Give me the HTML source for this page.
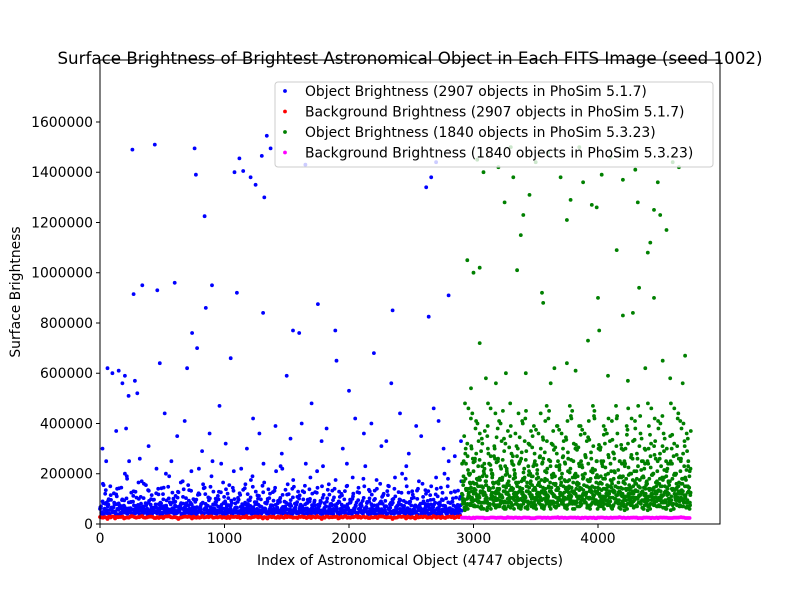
<!DOCTYPE html>
<html><head><meta charset="utf-8">
<style>
html,body{margin:0;padding:0;background:#fff;}
svg text{font-family:"DejaVu Sans","Liberation Sans",sans-serif;fill:#000;}
</style></head>
<body>
<svg id="chart" width="800" height="600" xmlns="http://www.w3.org/2000/svg">
<rect width="800" height="600" fill="#fff"/>
<text x="410" y="64" text-anchor="middle" font-size="16.7">Surface Brightness of Brightest Astronomical Object in Each FITS Image (seed 1002)</text>
<g id="marks"></g>
<rect x="100" y="60" width="620" height="464" fill="none" stroke="#000" stroke-width="1"/>
<g id="axes"></g>
<text x="410" y="565" text-anchor="middle" font-size="13.9">Index of Astronomical Object (4747 objects)</text>
<text transform="translate(20,292) rotate(-90)" text-anchor="middle" font-size="13.9">Surface Brightness</text>
<g id="legend"></g>
</svg>
<script>
// values in thousands
const xTicks=[0,1000,2000,3000,4000];
const yTicks=[0,200000,400000,600000,800000,1000000,1200000,1400000,1600000];
const nBlue=2907, nGreen=1840;
const blueDense=[60,45,90,38,120,55,70,42,150,65,48,85,40,110,58,75,36,95,52,68,44,180,62,50,88,39,130,57,72,46,100,54,66,41,160,59,80,47,92,37,115,63,49,78,43,140,56,71,45,98,53,200,61,40,86,48,125,58,74,42,105,51,69,38,170,64,47,83,44,135,55,77,39,96,52,67,46,118,60,82,41,145,57,73,49,102,54,250,63,43,89,48,128,59,76,40,108,53,70,45,155,61,84,42,99,56,65,47,122,50,79,38,142,62,71,44,94,55,190,58,46,87,41,112,52,68,48,165,60,81,43,103,57,74,39,132,54,66,45,97,51,220,63,47,85,42,119,59,72,40,148,56,78,46,101,53,69,44,126,61,83,41,138,58,75,48,93,50,210,64,45,88,39,116,55,70,43,158,57,80,47,106,52,67,42,129,60,77,46,98,54,240,62,44,90,40,121,58,73,41,144,56,82,49,104,51,68,43,136,59,79,45,95,53,175,61,47,87,42,114,55,71,40,152,57,84,48,100,52,66,44,127,60,76,46,92,54,230,63,43,89,41,117,58,74,39,140,56,81,47,108,50,69,45,131,59,78,42,97,53,185,62,46,86,44,124,57,72,41,150,55,83,48,102,51,70,43,133,60,75];
const blueOutX=[20,60,100,150,180,200,230,260,270,280,300,340,440,460,480,600,700,740,760,770,780,840,850,900,1050,1080,1100,1120,1150,1210,1250,1300,1310,1320,1340,1370,1500,1550,1600,1650,1750,1890,1900,2000,2200,2340,2350,2620,2640,2660,2700,2800,2900,50,130,210,320,390,520,620,680,820,880,960,1010,1180,1230,1280,1410,1460,1530,1620,1700,1780,1820,1950,2050,2120,2180,2260,2300,2410,2480,2540,2580,2680,2720,2760,2850];
const blueOutY=[300,620,600,610,560,590,510,1490,915,570,520,950,1510,930,640,960,620,760,1495,1390,700,1225,860,950,660,1400,920,1455,1405,1380,1350,1465,840,1300,1545,1495,590,770,760,1430,875,770,650,530,680,560,850,1340,825,1380,1440,910,330,250,370,380,260,310,440,350,410,290,360,470,320,300,420,360,390,280,340,400,480,330,380,300,420,360,400,310,330,440,280,390,350,460,410,300,270];
const redY=[28,26,30,27,22,29,25,31,28,24,27,30,26,20,29,28,25,31,27,26,29,24,28,30,27,25,29,22,28,26,30,27,25,29,28,24,31,27,26,28,29,25,27,30,26,28,24,29,27,25,28,30,26,27,29,25,28,26,30,27];
const greenDense=[120,80,250,95,180,60,320,110,140,75,420,130,90,210,160,70,280,100,150,85,360,125,65,190,115,240,90,170,55,300,135,80,460,105,200,145,75,260,120,95,380,160,70,230,110,175,85,340,130,60,220,100,155,90,480,140,75,270,120,195,80,310,105,165,70,250,135,95,400,115,185,65,290,150,85,210,125,170,100,350,80,240,140,60,200,110,160,95,440,130,75,260,120,180,90,330,105,150,70,230,145,85,370,115,190,65,280,135,100,215,125,165,80,300,95,245,140,70,410,110,175,90,255,130,60,320,120,200,85,155,105,390,145,75,235,115,185,95,270,125,65,345,100,170,140,80,220,110,450,130,90,195,120,160,70,305,135,85,250,105,180,95,360,115,150,75,240,145,60,285,125,205,100,420,90,165,130,80,315,110,190,70,230,140,95,375,120,155,85,265,105,175,65,335,135,210,100,470,115,145,80,250,125,185,90,295,110,160,70,390,140,225,95,120,200,85,330,105,170,130,75,260,150,115,430,90,185,125,60,300,140,165,100,240,110,355,80,195,135,95,275,120,150,70,410,105,180,130,85,310,115,215,95,250,145,75];
const greenOutX=[2950,3000,3030,3050,3080,3200,3250,3300,3320,3350,3380,3400,3450,3500,3550,3600,3700,3750,3780,3850,3880,3950,3990,4000,4030,4100,4150,4200,4300,4320,4330,4400,4420,4450,4480,4500,4550,4600,4650,4700,4010,3920,3050,4200,4280,4450,4520,3750,3560,3650,3100,3180,3420,3620,3820,4080,4240,4380,4580,4680,2980,3260];
const greenOutY=[1050,1000,1450,1020,1400,1420,1280,1500,1380,1010,1150,1230,1310,1440,920,1480,1380,1210,1290,1500,1360,1270,1260,900,1390,1460,1090,1370,1410,1280,940,1080,1120,1250,1360,1230,1170,1440,1420,670,770,730,720,830,840,900,650,640,880,620,580,560,600,560,610,590,570,620,580,560,540,600];
const magY=[25,24,26,25,23,26,24,25,27,24,25,26,23,25,24,26,25,24,25,26,24,25,23,26,25,24,26,25,24,25,26,24,25,23,26,25,24,25,26,24];

const L=100,R=720,T=60,B=524,XMAX=4980,YMAX=1846700;
const sx=v=>L+(v/XMAX)*(R-L);
const sy=v=>B-(v/YMAX)*(B-T);
const NS="http://www.w3.org/2000/svg";
const marks=document.getElementById('marks');
const axes=document.getElementById('axes');
const legend=document.getElementById('legend');
function dot(parent,x,y,c,name){
  if(!isFinite(x)||!isFinite(y)) return;
  const e=document.createElementNS(NS,'circle');
  e.setAttribute('cx',x.toFixed(1));e.setAttribute('cy',y.toFixed(1));e.setAttribute('r',1.9);e.setAttribute('fill',c);
  
  
  parent.appendChild(e);
}
// draw a value array across an index range; multiple passes reuse the array with a rotation
function series(arrY,start,count,c,name,passes){
  const n=arrY.length, step=count/n;
  for(let p=0;p<passes;p++){
    const rot=Math.floor(p*n/passes*0.37)+p*7;
    for(let i=0;i<n;i++){
      const v=arrY[(i+rot)%n];
      dot(marks,sx(start+(i+p/passes)*step),sy(v*1000),c,name);
    }
  }
}
series(blueDense,0,nBlue,'#0000ff','blue-point',4);
blueOutX.forEach((x,i)=>dot(marks,sx(x),sy(blueOutY[i]*1000),'#0000ff','blue-point'));
series(redY,0,nBlue,'#ff0000','red-point',4);
series(greenDense,nBlue,nGreen,'#008000','green-point',5);
greenOutX.forEach((x,i)=>dot(marks,sx(x),sy(greenOutY[i]*1000),'#008000','green-point'));
series(magY,nBlue,nGreen,'#ff00ff','magenta-point',4);

xTicks.forEach(t=>{
  const x=sx(t);
  const l=document.createElementNS(NS,'line');
  l.setAttribute('x1',x);l.setAttribute('x2',x);l.setAttribute('y1',B);l.setAttribute('y2',B+4);l.setAttribute('stroke','#000');
  
  
  axes.appendChild(l);
  const tx=document.createElementNS(NS,'text');
  tx.setAttribute('x',x);tx.setAttribute('y',B+19);tx.setAttribute('text-anchor','middle');tx.setAttribute('font-size','13.9');
  tx.textContent=t;
  
  
  axes.appendChild(tx);
});
yTicks.forEach(t=>{
  const y=sy(t);
  const l=document.createElementNS(NS,'line');
  l.setAttribute('x1',L-4);l.setAttribute('x2',L);l.setAttribute('y1',y);l.setAttribute('y2',y);l.setAttribute('stroke','#000');
  
  
  axes.appendChild(l);
  const tx=document.createElementNS(NS,'text');
  tx.setAttribute('x',L-7);tx.setAttribute('y',y+5);tx.setAttribute('text-anchor','end');tx.setAttribute('font-size','13.9');
  tx.textContent=t;
  
  
  axes.appendChild(tx);
});
const legendLabels=['Object Brightness (2907 objects in PhoSim 5.1.7)','Background Brightness (2907 objects in PhoSim 5.1.7)','Object Brightness (1840 objects in PhoSim 5.3.23)','Background Brightness (1840 objects in PhoSim 5.3.23)'];
const legendColors=['#0000ff','#ff0000','#008000','#ff00ff'];
const box=document.createElementNS(NS,'rect');
box.setAttribute('x',275);box.setAttribute('y',82);box.setAttribute('width',438);box.setAttribute('height',85);box.setAttribute('rx',3);
box.setAttribute('fill','rgba(255,255,255,0.8)');box.setAttribute('stroke','#ccc');


legend.appendChild(box);
legendLabels.forEach((s,i)=>{
  const y=91+i*20.5;
  dot(legend,285,y,legendColors[i],'legend-marker');
  const tx=document.createElementNS(NS,'text');
  tx.setAttribute('x',305);tx.setAttribute('y',y+5);tx.setAttribute('font-size','13.9');
  tx.textContent=s;
  
  
  legend.appendChild(tx);
});
</script>
</body></html>
